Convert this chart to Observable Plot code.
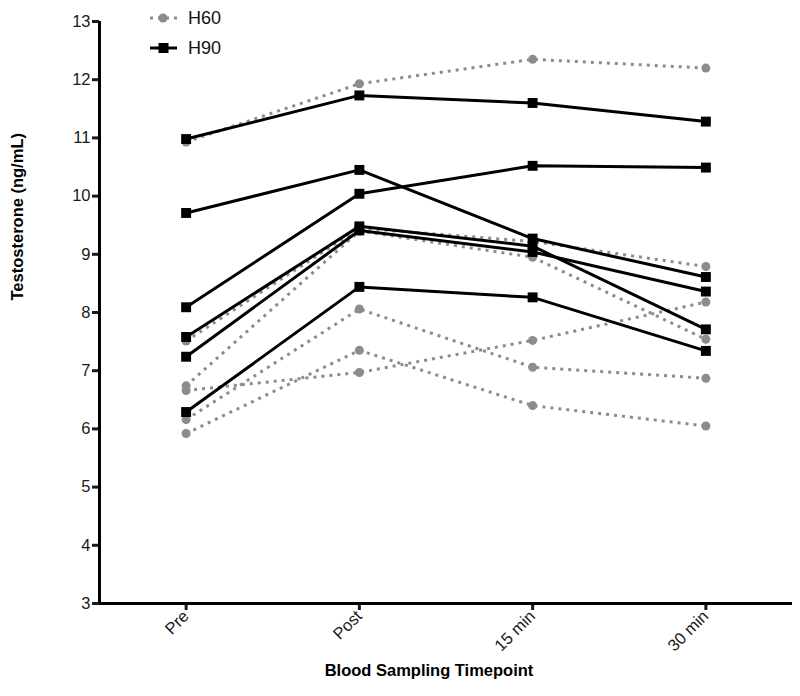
<!DOCTYPE html>
<html><head><meta charset="utf-8">
<script src="https://cdn.jsdelivr.net/npm/d3@7"></script>
<script src="https://cdn.jsdelivr.net/npm/@observablehq/plot@0.6"></script>
<style>
body{margin:0;background:#fff;font-family:"Liberation Sans",Arial,sans-serif}
#wrap{position:relative;width:800px;height:696px}
#legend{position:absolute;left:0;top:0}
</style></head><body><div id="wrap"><div id="chart"></div><svg id="legend" width="260" height="70"></svg></div>
<script>
const timepoints = ["Pre", "Post", "15 min", "30 min"];
const yTicks = [3, 4, 5, 6, 7, 8, 9, 10, 11, 12, 13];
const groups = ["H60", "H90"];
const yTitle = "Testosterone (ng/mL)";
const xTitle = "Blood Sampling Timepoint";
// one row per subject: values at Pre, Post, 15 min, 30 min
const h60 = [
  [10.93, 11.93, 12.35, 12.20],
  [7.51, 9.45, 9.22, 8.79],
  [6.74, 9.40, 8.95, 7.54],
  [6.66, 6.97, 7.52, 8.18],
  [6.16, 8.06, 7.06, 6.87],
  [5.92, 7.35, 6.40, 6.05]
];
const h90 = [
  [10.98, 11.73, 11.60, 11.28],
  [9.71, 10.45, 9.27, 8.61],
  [8.09, 10.04, 10.52, 10.49],
  [7.58, 9.48, 9.14, 7.71],
  [7.24, 9.41, 9.04, 8.36],
  [6.29, 8.44, 8.26, 7.34]
];

function tidy(rows, g) {
  const out = [];
  rows.forEach((r, s) => r.forEach((v, i) => out.push({group: g, subject: g + s, t: i, value: v})));
  return out;
}
const d60 = tidy(h60, "H60");
const d90 = tidy(h90, "H90");

const grey = "#8c8c8c";
const dash = "3,5";
const plot = Plot.plot({
  width: 800, height: 696,
  marginLeft: 99, marginRight: 8, marginTop: 21, marginBottom: 93,
  style: {fontFamily: "Liberation Sans, Arial, sans-serif", fontSize: "16px", color: "#1a1a1a", background: "white"},
  x: {type: "linear", domain: [-0.5, 3.5]},
  y: {domain: [3, 13]},
  marks: [
    Plot.axisY({ticks: yTicks, tickSize: 7, tickPadding: 2, strokeWidth: 3, label: null, fontSize: 16.5}),
    Plot.axisX({ticks: timepoints.map((d, i) => i), tickFormat: i => timepoints[i], tickRotate: -45, tickSize: 7, tickPadding: 3, strokeWidth: 3, label: null, fontSize: 16.5}),
    Plot.ruleX([-0.5], {strokeWidth: 3, stroke: "black"}),
    Plot.ruleY([3], {strokeWidth: 3, stroke: "black"}),
    Plot.line(d60, {x: "t", y: "value", z: "subject", stroke: grey, strokeWidth: 3, strokeDasharray: dash, strokeLinecap: "butt"}),
    Plot.dot(d60, {x: "t", y: "value", fill: grey, r: 4.5, symbol: "circle"}),
    Plot.line(d90, {x: "t", y: "value", z: "subject", stroke: "black", strokeWidth: 3}),
    Plot.dot(d90, {x: "t", y: "value", fill: "black", r: 5.6, symbol: "square"}),
    Plot.text([yTitle], {frameAnchor: "left", dx: -82, dy: -12, rotate: -90, fontWeight: "bold", fontSize: 16.5, fill: "black"}),
    Plot.text([xTitle], {frameAnchor: "bottom", dx: -17, dy: 72, fontWeight: "bold", fontSize: 16.5, fill: "black"})
  ]
});
document.getElementById("chart").appendChild(plot);

// legend
const lg = d3.select("#legend");
const rows = [
  {g: groups[0], y: 18, stroke: grey, dash: dash, sym: "circle", fill: grey},
  {g: groups[1], y: 48, stroke: "black", dash: null, sym: "square", fill: "black"}
];
rows.forEach(r => {
  lg.append("line").attr("x1", 150).attr("x2", 177).attr("y1", r.y).attr("y2", r.y)
    .attr("stroke", r.stroke).attr("stroke-width", 3).attr("stroke-dasharray", r.dash);
  if (r.sym === "circle") lg.append("circle").attr("cx", 163).attr("cy", r.y).attr("r", 4.5).attr("fill", r.fill);
  else lg.append("rect").attr("x", 158.5).attr("y", r.y - 5).attr("width", 10).attr("height", 10).attr("fill", r.fill);
  lg.append("text").attr("x", 188).attr("y", r.y).attr("dy", "0.36em").attr("font-size", 18)
    .attr("font-family", "Liberation Sans, Arial, sans-serif").attr("fill", "#111").text(r.g);
});
</script></body></html>
